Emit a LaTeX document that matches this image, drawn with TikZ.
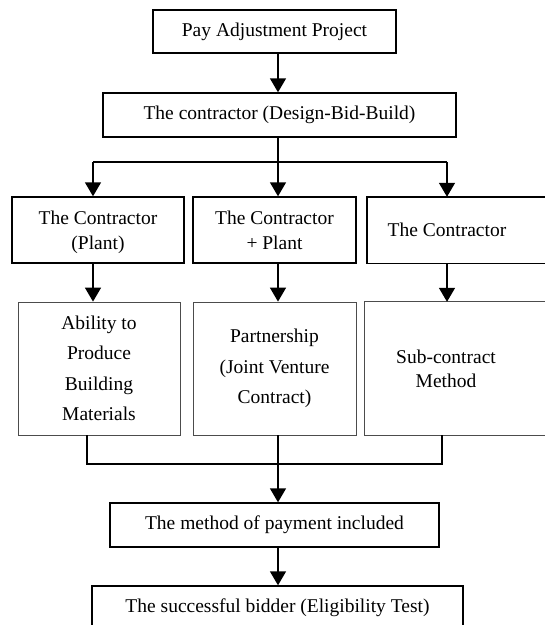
\documentclass[tikz,border=0pt]{standalone}
\usepackage{fontspec}
\setmainfont{Liberation Serif}
\usetikzlibrary{arrows.meta,calc}
\begin{document}
\begin{tikzpicture}[x=1pt,y=-1pt,
  boxbase/.style={rectangle, align=center, inner sep=0pt},
  thickbox/.style={boxbase, draw, line width=1.4pt, font=\fontsize{19.5}{25}\selectfont},
  thinbox/.style={boxbase, draw=black!70, line width=0.8pt, font=\fontsize{19.5}{30.5}\selectfont},
  arr/.style={line width=1.5pt, -{Triangle[width=16pt,length=14pt]}},
  ln/.style={line width=1.5pt}]
\useasboundingbox (0,0) rectangle (545,625);

\node[thickbox, minimum width=243pt, minimum height=43pt] (b1) at (274.5,31.5) {Pay Adjustment Project};
\node[thickbox, minimum width=353pt, minimum height=44pt] (b2) at (279.5,115) {The contractor (Design-Bid-Build)};

\node[thickbox, minimum width=172pt, minimum height=66pt, text depth=0pt] (A) at (98,230) {The Contractor\\(Plant)};
\node[thickbox, minimum width=163pt, minimum height=66pt, text depth=0pt] (B) at (274.5,230) {The Contractor\\+ Plant};
\node[boxbase, font=\fontsize{19.5}{25}\selectfont, minimum width=160pt, minimum height=66pt] (C) at (447,230) {The Contractor};
\draw[line width=1.4pt] (C.north west) rectangle ($(C.south east)+(80,0)$);

\node[thinbox, minimum width=162pt, minimum height=133pt] (D) at (99,368.5) {Ability to\\Produce\\Building\\Materials};
\node[thinbox, minimum width=163pt, minimum height=133pt] (E) at (274.5,368.5) {Partnership\\(Joint Venture\\Contract)};
\node[boxbase, font=\fontsize{19.5}{24}\selectfont, minimum width=162pt, minimum height=133pt] (F) at (446,368.5) {Sub-contract\\Method};
\draw[draw=black!70, line width=0.8pt] (F.north west) rectangle ($(F.south east)+(80,0)$);

\node[thickbox, minimum width=329pt, minimum height=44pt] (G) at (274.5,525) {The method of payment included};
\node[thickbox, minimum width=371pt, minimum height=44pt] (H) at (277.5,608) {The successful bidder (Eligibility Test)};

\coordinate (spine) at (278,0);
\coordinate (split) at (278,162);
\coordinate (sL) at (93,162);
\coordinate (sR) at (447,162);
\coordinate (jL) at (87,464);
\coordinate (jR) at (442,464);

\draw[arr] (b1.south -| spine) -- (b2.north -| spine);
\draw[ln] (b2.south -| spine) -- (split);
\draw[ln] (sL) -- (sR);
\draw[arr] (sL) -- (A.north -| sL);
\draw[arr] (split) -- (B.north -| split);
\draw[arr] (sR) -- (C.north -| sR);
\draw[arr] (A.south -| sL) -- (D.north -| sL);
\draw[arr] (B.south -| spine) -- (E.north -| spine);
\draw[arr] (C.south -| sR) -- (F.north -| sR);
\draw[ln] (D.south -| jL) -- (jL) -- (jR) -- (F.south -| jR);
\draw[arr] (E.south -| spine) -- (G.north -| spine);
\draw[arr] (G.south -| spine) -- (H.north -| spine);
\end{tikzpicture}
\end{document}
